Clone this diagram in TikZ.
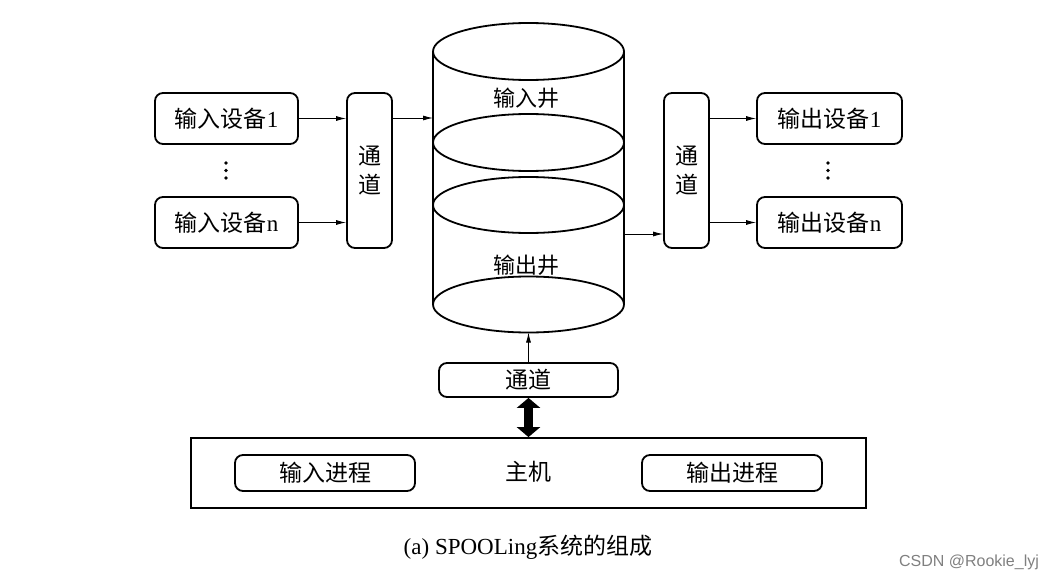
\documentclass[tikz,border=0pt]{standalone}
\usepackage{fontspec}
\setmainfont{Liberation Serif}
\newfontfamily\cjk{Noto Sans CJK SC}
\newfontfamily\wmfont{Liberation Sans}
\usetikzlibrary{arrows.meta}
\tikzset{
  box/.style={draw, line width=1.8pt, rounded corners=8pt, inner sep=0pt, align=center},
  lbl/.style={font=\fontsize{23}{27}\selectfont},
  wlbl/.style={font=\fontsize{22}{26}\selectfont},
  link/.style={line width=0.9pt, -{Latex[length=10pt,width=5pt]}},
  cyl/.style={line width=1.8pt},
}
\begin{document}
\begin{tikzpicture}[x=1pt,y=-1pt]
\useasboundingbox (0,0) rectangle (1063,586);
\fill[white] (0,0) rectangle (1063,586);
% input devices
\node[box, lbl, minimum width=143pt, minimum height=51pt] (in1) at (226.5,118.5) {{\cjk 输入设备}1};
\node[box, lbl, minimum width=143pt, minimum height=51pt] (inn) at (226.5,222.5) {{\cjk 输入设备}n};
\node[box, lbl, minimum width=45pt, minimum height=155pt] (chL) at (369.5,170.5) {\cjk 通\\[2pt]\cjk 道};
% output devices
\node[box, lbl, minimum width=145pt, minimum height=51pt] (out1) at (829.5,118.5) {{\cjk 输出设备}1};
\node[box, lbl, minimum width=145pt, minimum height=51pt] (outn) at (829.5,222.5) {{\cjk 输出设备}n};
\node[box, lbl, minimum width=45pt, minimum height=155pt] (chR) at (686.5,170.5) {\cjk 通\\[2pt]\cjk 道};
% dots
\fill (226,163) circle (1.8pt) (226,170.5) circle (1.8pt) (226,178) circle (1.8pt);
\fill (828,163) circle (1.8pt) (828,170.5) circle (1.8pt) (828,178) circle (1.8pt);
% cylinder
\draw[cyl] (433,51.5) -- (433,304.5) (624,51.5) -- (624,304.5);
\draw[cyl] (528.5,51.5) ellipse [x radius=95.5pt, y radius=28.5pt];
\draw[cyl] (528.5,142.5) ellipse [x radius=95.5pt, y radius=28.5pt];
\draw[cyl] (528.5,205) ellipse [x radius=95.5pt, y radius=28pt];
\draw[cyl] (528.5,304.5) ellipse [x radius=95.5pt, y radius=28pt];
\node[wlbl] (inwell) at (526,98) {\cjk 输入井};
\node[wlbl] (outwell) at (526,265) {\cjk 输出井};
\coordinate (cylL) at (433,118);
\coordinate (cylR) at (624,234);
\coordinate (cylB) at (528.5,332.5);
% bottom channel and host
\node[box, lbl, minimum width=179pt, minimum height=34pt] (chB) at (528.5,380) {\cjk 通道};
\node[draw, line width=1.8pt, minimum width=675pt, minimum height=70pt, inner sep=0pt] (host) at (528.5,473) {};
\node[lbl] (hostlbl) at (528,472) {\cjk 主机};
\node[box, lbl, minimum width=180pt, minimum height=36pt] (pin) at (325,473) {\cjk 输入进程};
\node[box, lbl, minimum width=180pt, minimum height=36pt] (pout) at (732,473) {\cjk 输出进程};
% connectors
\draw[link] (in1.east) -- (in1.east -| chL.west);
\draw[link] (inn.east) -- (inn.east -| chL.west);
\draw[link] (chL.east |- cylL) -- (cylL);
\draw[link] (cylR) -- (cylR -| chR.west);
\draw[link] (out1.west -| chR.east) -- (out1.west);
\draw[link] (outn.west -| chR.east) -- (outn.west);
\draw[link] (chB.north) -- (cylB);
\draw[line width=9pt, {Triangle[length=10pt,width=23pt]}-{Triangle[length=10pt,width=23pt]}] (chB.south) -- (host.north);
% caption
\node[font=\fontsize{23}{27}\selectfont] (cap) at (528,547) {(a) SPOOLing{\cjk 系统的组成}};
\node[font=\wmfont\fontsize{16}{18}\selectfont, text=black!50] (wm) at (969,562) {CSDN @Rookie\_lyj};
\end{tikzpicture}
\end{document}
